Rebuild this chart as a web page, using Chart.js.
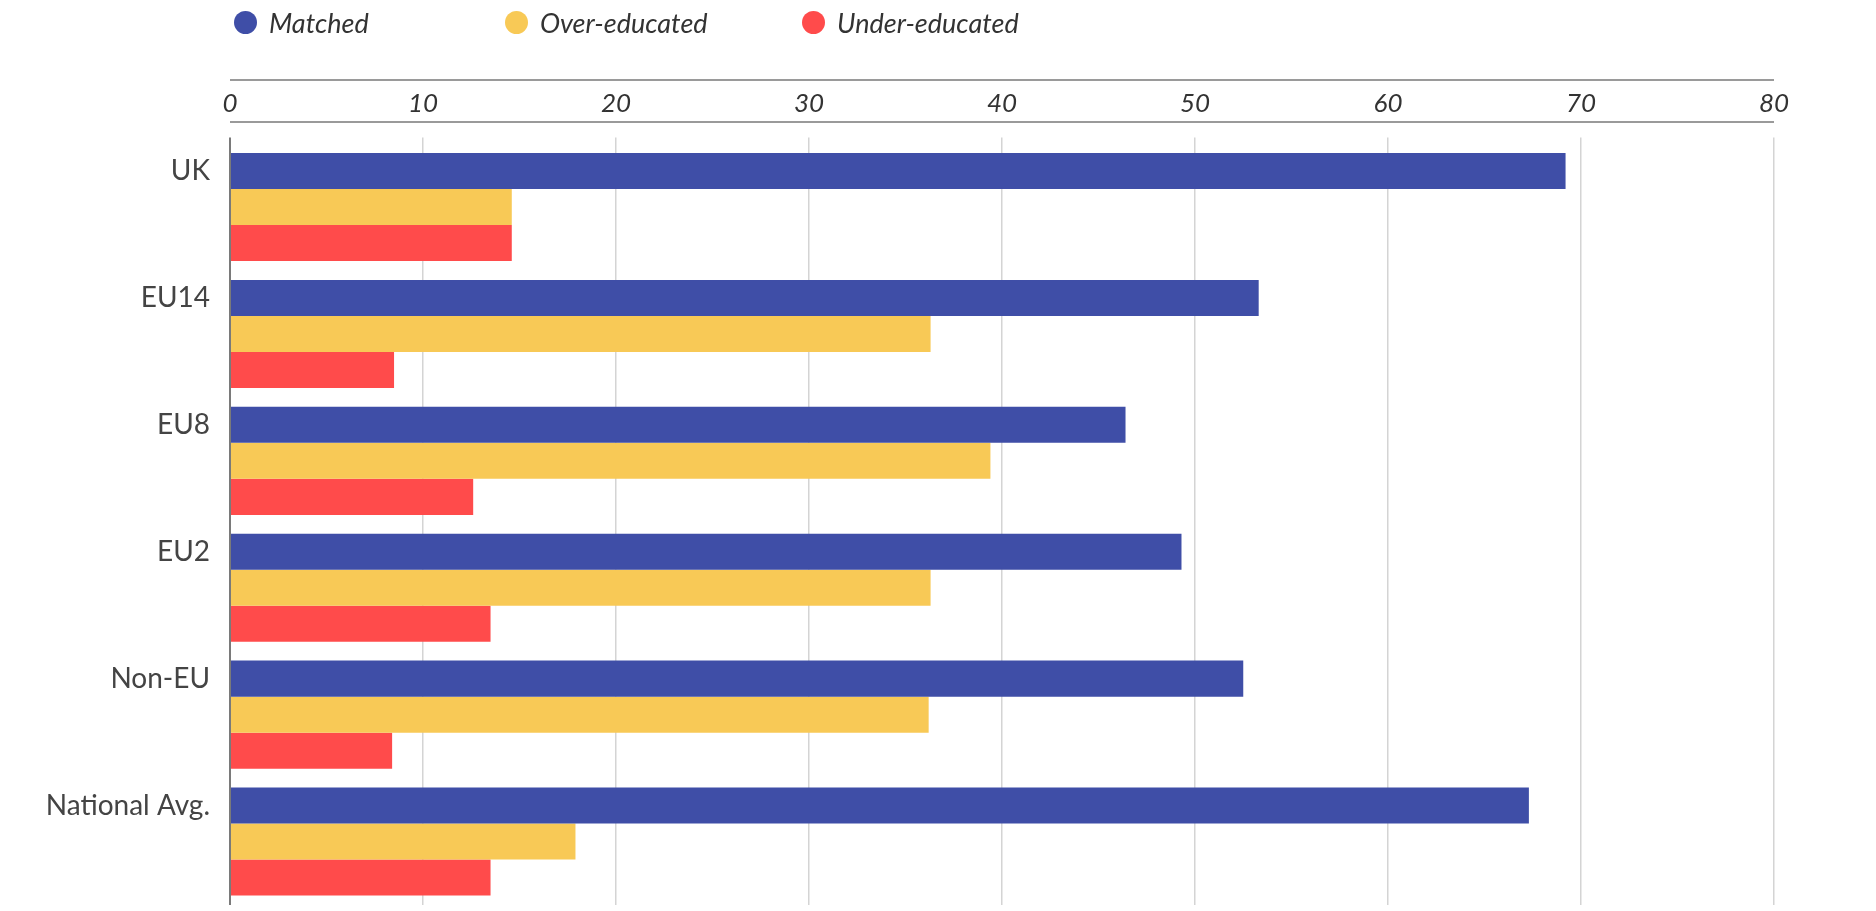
<!DOCTYPE html>
<html>
<head>
<meta charset="utf-8">
<script src="https://cdn.jsdelivr.net/npm/chart.js@4/dist/chart.umd.min.js"></script>
<style>
  html, body { margin:0; padding:0; background:#fff; }
  #wrap { position:relative; width:1876px; height:911px; }
  #chart { position:absolute; left:0; top:0; }
  .lg { position:absolute; top:5px; height:34px; display:flex; align-items:center;
        font-family:Lato, sans-serif; font-style:italic; font-size:27px; color:#333; }
  .lg i { display:inline-block; width:23px; height:23px; border-radius:50%; margin-right:12px; }
</style>
</head>
<body>
<div id="wrap">
  <canvas id="chart" width="1876" height="911"></canvas>
</div>
<script>
// categories and series (percent)
const categories = ['UK', 'EU14', 'EU8', 'EU2', 'Non-EU', 'National Avg.'];
const matched      = [69.2, 53.3, 46.4, 49.3, 52.5, 67.3];
const overEducated = [14.6, 36.3, 39.4, 36.3, 36.2, 17.9];
const underEducated= [14.6,  8.5, 12.6, 13.5,  8.4, 13.5];
const seriesNames  = ['Matched', 'Over-educated', 'Under-educated'];
const colors = ['#3f4ea7', '#f8c956', '#ff4b4b'];
const legendLeft = [234, 505, 802];

const wrap = document.getElementById('wrap');

// html legend
seriesNames.forEach((n, i) => {
  const d = document.createElement('div');
  d.className = 'lg';
  d.style.left = legendLeft[i] + 'px';
  d.innerHTML = '<i style="background:' + colors[i] + '"></i>' + n;
  wrap.appendChild(d);
});

// two rules above and below the top tick labels
const topRules = {
  id: 'topRules',
  afterDraw(chart){
    const {ctx, chartArea} = chart;
    ctx.save();
    ctx.strokeStyle = '#9a9a9a';
    ctx.lineWidth = 2;
    [80, 122].forEach(y => {
      ctx.beginPath();
      ctx.moveTo(chartArea.left, y);
      ctx.lineTo(chartArea.right, y);
      ctx.stroke();
    });
    ctx.restore();
  }
};

new Chart(document.getElementById('chart'), {
  type: 'bar',
  data: {
    labels: categories,
    datasets: [matched, overEducated, underEducated].map((d, i) => ({
      label: seriesNames[i], data: d, backgroundColor: colors[i],
      barPercentage: 1, categoryPercentage: 0.852, borderWidth: 0
    }))
  },
  options: {
    indexAxis: 'y',
    responsive: false,
    animation: false,
    layout: { padding: { left: 0, right: 102, top: 0, bottom: 6 } },
    plugins: { legend: { display: false }, tooltip: { enabled: false } },
    scales: {
      x: {
        position: 'top', min: 0, max: 80,
        afterFit: s => { s.height = 143.6; },
        ticks: { stepSize: 10, padding: 18, color: '#333',
                 font: { family: 'Lato', style: 'italic', size: 26 } },
        grid: { color: ctx => ctx.index === 0 ? '#7a7a7a' : '#d4d4d4',
                lineWidth: ctx => ctx.index === 0 ? 2 : 1.5,
                tickLength: 6, drawTicks: true },
        border: { display: false }
      },
      y: {
        afterFit: s => { s.width = 230; s.paddingTop = 0; s.paddingBottom = 0; },
        ticks: { padding: 0, labelOffset: -36, color: '#444',
                 font: { family: 'Lato', size: 28 } },
        grid: { display: true, drawOnChartArea: false, color: 'rgba(0,0,0,0)',
                drawTicks: true, tickLength: 20 },
        border: { display: false }
      }
    }
  },
  plugins: [topRules]
});
</script>
</body>
</html>
